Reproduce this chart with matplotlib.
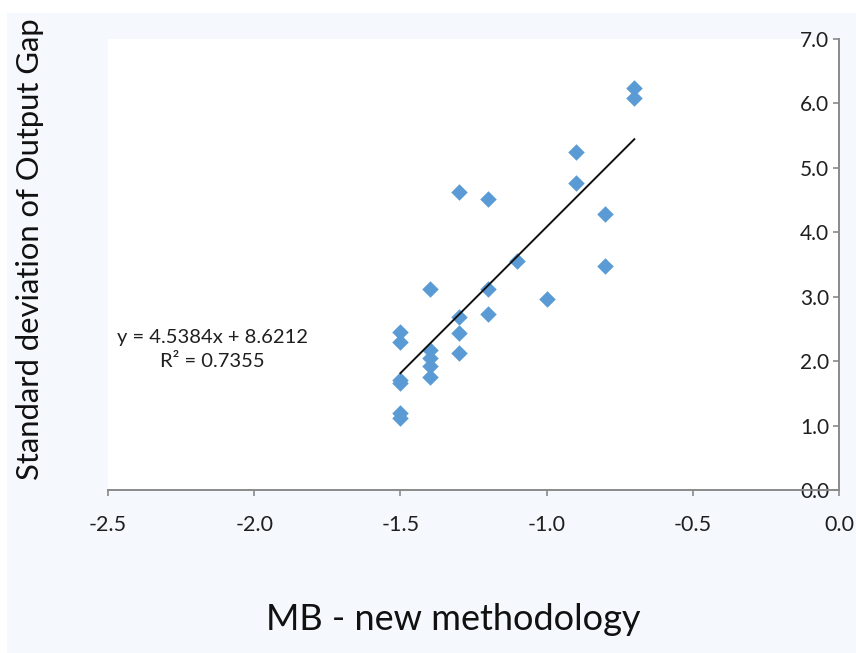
import matplotlib
matplotlib.use("Agg")
import matplotlib.pyplot as plt
from matplotlib.patches import Rectangle
import numpy as np

# ---- data ----
mb_new = [-0.7, -0.7, -0.9, -0.9, -0.8, -0.8, -1.3, -1.2, -1.1, -1.4, -1.2, -1.0,
          -1.3, -1.2, -1.5, -1.5, -1.3, -1.4, -1.4, -1.4, -1.4, -1.3, -1.5, -1.5,
          -1.5, -1.5]
sd_output_gap = [6.24, 6.08, 5.25, 4.77, 4.29, 3.47, 4.63, 4.52, 3.56, 3.12, 3.12, 2.97,
                 2.69, 2.73, 2.45, 2.30, 2.44, 2.18, 2.05, 1.92, 1.75, 2.13, 1.71, 1.66,
                 1.20, 1.11]
trend_slope = 4.5384
trend_intercept = 8.6212
trend_r2 = 0.7355
x_ticks = [-2.5, -2.0, -1.5, -1.0, -0.5, 0.0]
y_ticks = [0.0, 1.0, 2.0, 3.0, 4.0, 5.0, 6.0, 7.0]

plt.rcParams['font.family'] = ['Lato', 'DejaVu Sans']

W, H = 856, 653
fig = plt.figure(figsize=(W / 100, H / 100), dpi=100)
fig.patch.set_facecolor('white')
bg = '#f5f9fd'
fig.patches.append(Rectangle((7 / W, 0), 1 - 7 / W, 1 - 13 / H, transform=fig.transFigure,
                             facecolor=bg, edgecolor='none', zorder=-10))

x0, x1 = 108, 839
y0, y1 = 490, 39
ax = fig.add_axes([x0 / W, 1 - y0 / H, (x1 - x0) / W, (y0 - y1) / H])
ax.set_zorder(1)
ax.set_facecolor('white')

ax.set_xlim(-2.5, 0.0)
ax.set_ylim(0.0, 7.0)

axis_col = '#8a8a8a'
for s in ['top', 'right']:
    ax.spines[s].set_visible(False)
ax.spines['left'].set_position(('data', 0.0))
ax.spines['left'].set_color(axis_col)
ax.spines['bottom'].set_color(axis_col)
ax.spines['left'].set_linewidth(1.4)
ax.spines['bottom'].set_linewidth(1.4)

ax.set_xticks(x_ticks)
ax.set_xticklabels([f"{v:.1f}" for v in x_ticks])
ax.set_yticks(y_ticks)
ax.set_yticklabels([f"{v:.1f}" for v in y_ticks])
ax.tick_params(axis='x', direction='out', length=4, width=1.2, color=axis_col,
               pad=14, labelsize=15.5, labelcolor='#1f1f1f')
ax.tick_params(axis='y', direction='out', length=4, width=1.2, color=axis_col,
               pad=3, labelsize=15, labelcolor='#1f1f1f')

ax.scatter(mb_new, sd_output_gap, marker='D', s=8.4 ** 2, color='#5b9bd5',
           linewidths=0, zorder=3, clip_on=False)

xt = np.array([min(mb_new), max(mb_new)])
ax.plot(xt, trend_slope * xt + trend_intercept, color='#111111', lw=1.4, zorder=4)

ax.text(-2.142, 2.18, f"y = {trend_slope}x + {trend_intercept}\nR² = {trend_r2}",
        ha='center', va='center', fontsize=14.5, color='#1f1f1f', linespacing=1.5)

fig.text(453 / W, 1 - 620 / H, "MB - new methodology", ha='center', va='center',
         fontsize=26, color='#111111')
fig.text(30 / W, 1 - 249 / H, "Standard deviation of Output Gap", ha='center', va='center',
         rotation=90, fontsize=22.3, color='#111111')

fig.savefig('out.png', dpi=100, facecolor=fig.get_facecolor())
